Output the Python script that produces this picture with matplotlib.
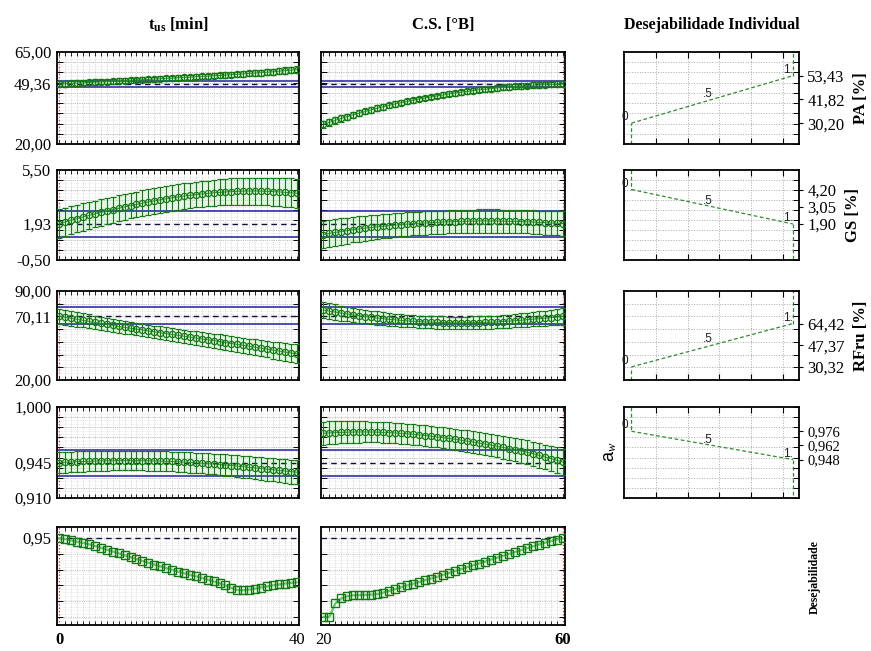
import numpy as np
import matplotlib.pyplot as plt

plt.rcParams['font.family'] = ['Liberation Serif', 'DejaVu Serif']
plt.rcParams['mathtext.fontset'] = 'custom'
plt.rcParams['mathtext.rm'] = 'Liberation Serif'
plt.rcParams['mathtext.it'] = 'Liberation Serif:italic'
plt.rcParams['mathtext.bf'] = 'Liberation Serif:bold'

# --- data ---

t_us = np.arange(0, 41)      # ultrasound time [min]
cs = np.arange(20, 61)       # sugar concentration [°B]

# PA [%]
pa_t = [49.36, 49.5, 49.65, 49.8, 49.95, 50.1, 50.25, 50.4, 50.55, 50.7, 50.85,
        51.0, 51.15, 51.3, 51.45, 51.6, 51.75, 51.9, 52.05, 52.2, 52.4,
        52.55, 52.7, 52.9, 53.05, 53.2, 53.4, 53.55, 53.75, 53.9, 54.1,
        54.3, 54.5, 54.7, 54.9, 55.1, 55.35, 55.6, 55.85, 56.1, 56.4]
pa_t_err = [1.4, 1.4, 1.35, 1.35, 1.3, 1.3, 1.3, 1.25, 1.25, 1.25, 1.2,
            1.2, 1.2, 1.2, 1.2, 1.2, 1.2, 1.2, 1.2, 1.2, 1.2,
            1.2, 1.2, 1.25, 1.25, 1.25, 1.3, 1.3, 1.3, 1.35, 1.35,
            1.4, 1.4, 1.45, 1.45, 1.5, 1.5, 1.55, 1.6, 1.6, 1.65]
pa_cs = [29.6, 30.6, 31.6, 32.5, 33.4, 34.3, 35.1, 35.9, 36.7, 37.5, 38.2,
         38.9, 39.6, 40.2, 40.8, 41.4, 42.0, 42.5, 43.0, 43.5, 44.0,
         44.5, 44.9, 45.3, 45.7, 46.1, 46.5, 46.8, 47.1, 47.4, 47.7,
         47.9, 48.2, 48.4, 48.6, 48.8, 48.9, 49.05, 49.15, 49.25, 49.36]
pa_cs_err = [1.7, 1.65, 1.6, 1.55, 1.5, 1.5, 1.45, 1.4, 1.4, 1.35, 1.35,
             1.3, 1.3, 1.25, 1.25, 1.25, 1.2, 1.2, 1.2, 1.2, 1.2,
             1.2, 1.2, 1.2, 1.2, 1.2, 1.2, 1.2, 1.25, 1.25, 1.25,
             1.25, 1.3, 1.3, 1.3, 1.3, 1.35, 1.35, 1.35, 1.4, 1.4]

# GS [%]
gs_t = [1.93, 2.04, 2.15, 2.26, 2.37, 2.47, 2.57, 2.67, 2.77, 2.86, 2.95,
        3.04, 3.13, 3.21, 3.29, 3.37, 3.44, 3.51, 3.58, 3.64, 3.70,
        3.76, 3.81, 3.86, 3.90, 3.94, 3.98, 4.01, 4.04, 4.06, 4.08,
        4.09, 4.10, 4.10, 4.09, 4.08, 4.06, 4.04, 4.01, 3.98, 3.95]
gs_t_err = [0.95, 0.94, 0.93, 0.92, 0.91, 0.9, 0.89, 0.88, 0.87, 0.87, 0.86,
            0.86, 0.85, 0.85, 0.85, 0.85, 0.85, 0.85, 0.85, 0.85, 0.85,
            0.85, 0.85, 0.85, 0.86, 0.86, 0.86, 0.87, 0.87, 0.88, 0.88,
            0.89, 0.9, 0.9, 0.91, 0.92, 0.93, 0.94, 0.95, 0.96, 0.97]
gs_cs = [1.20, 1.27, 1.34, 1.40, 1.46, 1.52, 1.57, 1.62, 1.67, 1.71, 1.75,
         1.79, 1.83, 1.86, 1.89, 1.92, 1.95, 1.97, 1.99, 2.01, 2.03,
         2.05, 2.06, 2.07, 2.08, 2.09, 2.10, 2.10, 2.10, 2.10, 2.09,
         2.08, 2.07, 2.06, 2.05, 2.03, 2.01, 1.99, 1.97, 1.95, 1.93]
gs_cs_err = [0.9, 0.89, 0.88, 0.87, 0.86, 0.85, 0.84, 0.83, 0.82, 0.81, 0.8,
             0.8, 0.79, 0.79, 0.78, 0.78, 0.78, 0.77, 0.77, 0.77, 0.77,
             0.77, 0.77, 0.77, 0.77, 0.77, 0.77, 0.77, 0.77, 0.77, 0.77,
             0.77, 0.78, 0.78, 0.78, 0.78, 0.79, 0.79, 0.8, 0.8, 0.81]

# RFru [%]
rf_t = [70.1, 69.3, 68.5, 67.7, 66.9, 66.1, 65.3, 64.5, 63.7, 62.9, 62.1,
        61.4, 60.7, 60.0, 59.3, 58.6, 57.9, 57.2, 56.5, 55.8, 55.1,
        54.4, 53.7, 53.0, 52.3, 51.6, 50.9, 50.2, 49.4, 48.7, 48.0,
        47.3, 46.5, 45.8, 45.0, 44.3, 43.5, 42.8, 42.0, 41.3, 40.5]
rf_t_err = [6.0, 5.9, 5.8, 5.7, 5.6, 5.5, 5.4, 5.3, 5.2, 5.1, 5.0,
            5.0, 4.9, 4.9, 4.9, 4.9, 4.9, 4.9, 4.9, 5.0, 5.0,
            5.1, 5.1, 5.2, 5.3, 5.4, 5.5, 5.6, 5.7, 5.8, 5.9,
            6.0, 6.1, 6.3, 6.4, 6.6, 6.7, 6.9, 7.1, 7.3, 7.5]
rf_cs = [75.0, 74.2, 73.4, 72.6, 71.9, 71.2, 70.5, 69.9, 69.3, 68.7, 68.2,
         67.7, 67.3, 66.9, 66.5, 66.2, 65.9, 65.7, 65.5, 65.3, 65.2,
         65.1, 65.0, 65.0, 65.0, 65.1, 65.2, 65.3, 65.5, 65.7, 66.0,
         66.3, 66.6, 67.0, 67.4, 67.8, 68.2, 68.6, 69.1, 69.6, 70.1]
rf_cs_err = [6.5, 6.3, 6.1, 5.9, 5.8, 5.6, 5.5, 5.4, 5.3, 5.2, 5.1,
             5.0, 5.0, 4.9, 4.9, 4.9, 4.8, 4.8, 4.8, 4.8, 4.8,
             4.8, 4.8, 4.8, 4.8, 4.9, 4.9, 4.9, 5.0, 5.0, 5.1,
             5.2, 5.3, 5.4, 5.5, 5.6, 5.8, 6.0, 6.2, 6.4, 6.6]

# a_w
aw_t = [0.9450, 0.9453, 0.9456, 0.9459, 0.9461, 0.9463, 0.9465, 0.9467, 0.9468, 0.9469, 0.9470,
        0.9470, 0.9470, 0.9470, 0.9469, 0.9468, 0.9467, 0.9465, 0.9463, 0.9461, 0.9458,
        0.9455, 0.9452, 0.9448, 0.9444, 0.9440, 0.9436, 0.9431, 0.9426, 0.9421, 0.9415,
        0.9409, 0.9403, 0.9397, 0.9391, 0.9385, 0.9379, 0.9373, 0.9367, 0.9361, 0.9355]
aw_t_err = [0.0105, 0.0104, 0.0103, 0.0102, 0.0101, 0.01, 0.0099, 0.0098, 0.0098, 0.0097, 0.0097,
            0.0097, 0.0097, 0.0097, 0.0097, 0.0097, 0.0097, 0.0097, 0.0098, 0.0098, 0.0099,
            0.0099, 0.01, 0.01, 0.0101, 0.0102, 0.0103, 0.0104, 0.0105, 0.0106, 0.0107,
            0.0108, 0.0109, 0.011, 0.0111, 0.0113, 0.0114, 0.0116, 0.0117, 0.0119, 0.012]
aw_cs = [0.9740, 0.9744, 0.9747, 0.9749, 0.9751, 0.9752, 0.9753, 0.9753, 0.9752, 0.9751, 0.9749,
         0.9746, 0.9743, 0.9739, 0.9735, 0.9730, 0.9724, 0.9718, 0.9711, 0.9704, 0.9697,
         0.9689, 0.9681, 0.9672, 0.9663, 0.9654, 0.9644, 0.9634, 0.9623, 0.9612, 0.9601,
         0.9589, 0.9577, 0.9565, 0.9552, 0.9539, 0.9522, 0.9506, 0.9490, 0.9473, 0.9456]
aw_cs_err = [0.0115, 0.0113, 0.0111, 0.0109, 0.0107, 0.0106, 0.0105, 0.0104, 0.0103, 0.0102, 0.0102,
             0.0101, 0.0101, 0.0101, 0.0101, 0.0101, 0.0101, 0.0101, 0.0102, 0.0102, 0.0103,
             0.0103, 0.0104, 0.0105, 0.0106, 0.0107, 0.0108, 0.0109, 0.011, 0.0111, 0.0112,
             0.0114, 0.0115, 0.0116, 0.0118, 0.0119, 0.0121, 0.0123, 0.0125, 0.0127, 0.0129]

# overall desirability
des_t = [0.950, 0.943, 0.935, 0.927, 0.919, 0.911, 0.900, 0.889, 0.877, 0.865, 0.853,
         0.841, 0.829, 0.817, 0.805, 0.794, 0.782, 0.771, 0.760, 0.749, 0.738,
         0.728, 0.718, 0.708, 0.698, 0.687, 0.676, 0.664, 0.650, 0.635, 0.622,
         0.620, 0.624, 0.630, 0.637, 0.644, 0.651, 0.657, 0.662, 0.666, 0.670]
des_cs = [0.452, 0.452, 0.537, 0.568, 0.582, 0.588, 0.590, 0.591, 0.592, 0.595, 0.605,
          0.616, 0.627, 0.638, 0.650, 0.661, 0.672, 0.683, 0.694, 0.705, 0.717,
          0.729, 0.741, 0.753, 0.765, 0.777, 0.789, 0.801, 0.813, 0.825, 0.837,
          0.849, 0.861, 0.873, 0.885, 0.897, 0.909, 0.920, 0.930, 0.940, 0.950]

# current setting and predicted values
current_t = 0
current_cs = 60
current_pred = [49.36, 1.93, 70.11, 0.945, 0.95]
ci_low = [48.0, 1.05, 63.8, 0.932]
ci_high = [50.9, 2.75, 77.5, 0.957]

row_ylims = [(20, 65), (-0.5, 5.5), (20, 90), (0.91, 1.0), (0.40, 1.02)]
row_tick_vals = [[20, 49.36, 65], [-0.5, 1.93, 5.5], [20, 70.11, 90],
                 [0.91, 0.945, 1.0], [0.95]]
row_tick_lbls = [['20,00', '49,36', '65,00'], ['-0,50', '1,93', '5,50'],
                 ['20,00', '70,11', '90,00'], ['0,910', '0,945', '1,000'], ['0,95']]

# individual desirability functions: response values at d = 0, .5, 1
des_levels = [0, 0.5, 1]
des_point_lbls = ['0', '.5', '1.']
resp_names = ['PA [%]', 'GS [%]', 'RFru [%]']
resp_vals = [[30.20, 41.82, 53.43], [4.20, 3.05, 1.90],
             [30.32, 47.37, 64.42], [0.976, 0.962, 0.948]]
resp_lbls = [['30,20', '41,82', '53,43'], ['4,20', '3,05', '1,90'],
             ['30,32', '47,37', '64,42'], ['0,976', '0,962', '0,948']]

# --- layout ---
W, H = 871, 651
col_px = [(57, 299), (321, 565), (624, 799)]
row_px = [(52, 144), (170, 260), (291, 380), (407, 498), (527, 625)]
n_minor = [9, 9, 7, 9]

GREEN = '#137a13'
BLUE = '#1f1fa0'


def ax_at(col, row):
    x0, x1 = col_px[col]
    y0, y1 = row_px[row]
    return fig.add_axes([x0 / W, 1 - y1 / H, (x1 - x0) / W, (y1 - y0) / H])


def minor_levels(row):
    lo, hi = row_ylims[row]
    if row == 4:
        return [0.45, 0.55, 0.65, 0.75, 0.85, 0.95]
    return list(np.linspace(lo, hi, n_minor[row] + 1))


def frame(ax):
    for s in ax.spines.values():
        s.set_linewidth(1.3)
        s.set_color('black')


def draw_profile(ax, x, y, err, row, cur_x, first_col):
    lo, hi = row_ylims[row]
    ax.set_xlim(x[0] - 0.4, x[-1] + 0.4)
    ax.set_ylim(lo, hi)
    y = np.asarray(y)

    # fine dotted mesh
    ax.set_xticks(x, minor=True)
    ax.grid(which='minor', axis='x', color='#c9c9c9', ls=':', lw=0.6, zorder=0)
    for yy in np.linspace(lo, hi, 28)[1:-1]:
        ax.axhline(yy, color='#dcdcdc', ls=':', lw=0.5, zorder=0)
    levels = minor_levels(row)
    for yy in levels:
        ax.axhline(yy, color='#a8a8a8', ls=':', lw=0.6, zorder=0)
    ax.set_yticks(levels, minor=True)

    ax.axvline(cur_x, color='#e03030', ls=':', lw=0.9, zorder=1)
    if row < 4:
        ax.axhline(ci_low[row], color=BLUE, lw=1.1, zorder=2)
        ax.axhline(ci_high[row], color=BLUE, lw=1.1, zorder=2)
    ax.axhline(current_pred[row], color='#101040', ls=(0, (4, 3)), lw=1.0, zorder=2)

    if row < 4:
        err = np.asarray(err)
        ax.fill_between(x, y - err, y + err, color='#c6eac6', alpha=0.4, lw=0, zorder=1)
        ax.plot(x, y, color='#3a9a3a', lw=0.8, zorder=3)
        ax.errorbar(x, y, yerr=err, fmt='o', ms=4.5, mfc='none', mec=GREEN, mew=0.9,
                    ecolor=GREEN, elinewidth=0.8, capsize=2.2, capthick=0.8, zorder=4)
    else:
        ax.plot(x, y, color='#6cc46c', lw=1.6, zorder=3)
        ax.plot(x, y, 's', ms=5.5, mfc='none', mec=GREEN, mew=1.0, zorder=4)

    ax.tick_params(which='minor', axis='x', direction='in', top=True, bottom=True,
                   length=3, width=0.6)
    ax.tick_params(which='minor', axis='y', direction='in', left=True, right=True,
                   length=4, width=0.7)
    if first_col:
        ax.set_yticks(row_tick_vals[row], row_tick_lbls[row])
    else:
        ax.set_yticks(row_tick_vals[row], [''] * len(row_tick_vals[row]))
    ax.tick_params(which='major', axis='y', length=0, labelsize=12, pad=4)
    frame(ax)


fig = plt.figure(figsize=(W / 100, H / 100), dpi=100)

profiles = [
    [(pa_t, pa_t_err), (pa_cs, pa_cs_err)],
    [(gs_t, gs_t_err), (gs_cs, gs_cs_err)],
    [(rf_t, rf_t_err), (rf_cs, rf_cs_err)],
    [(aw_t, aw_t_err), (aw_cs, aw_cs_err)],
    [(des_t, None), (des_cs, None)],
]

for row in range(5):
    for col, (x, cur) in enumerate([(t_us, current_t), (cs, current_cs)]):
        ax = ax_at(col, row)
        y, err = profiles[row][col]
        draw_profile(ax, x, y, err, row, cur, col == 0)
        if row == 4:
            ax.set_xticks([x[0], x[-1]], [str(x[0]), str(x[-1])])
            ax.tick_params(which='major', axis='x', length=0, labelsize=12, pad=5)
            for lbl in ax.get_xticklabels():
                if int(lbl.get_text()) == cur:
                    lbl.set_fontweight('bold')
        else:
            ax.set_xticks([])

# individual desirability column
for row in range(4):
    ax = ax_at(2, row)
    lo, hi = row_ylims[row]
    ax.set_xlim(-0.046, 1.037)
    ax.set_ylim(lo, hi)
    vals = resp_vals[row]
    ax.plot(des_levels, vals, color='#2e8b2e', ls=(0, (3, 2)), lw=0.9, zorder=3)
    up = vals[2] > vals[0]
    ax.plot([0, 0], [lo if up else hi, vals[0]], color='#2e8b2e', ls=(0, (3, 2)), lw=0.9)
    ax.plot([1, 1], [vals[2], hi if up else lo], color='#2e8b2e', ls=(0, (3, 2)), lw=0.9)
    for d, v, t in zip(des_levels, vals, des_point_lbls):
        ax.annotate(t, (d, v), xytext=(-7, 2), textcoords='offset points',
                    fontsize=8.5, family=['Liberation Sans', 'DejaVu Sans'], color='#202020')

    gx = [0.155, 0.35, 0.545, 0.74, 0.935]
    ax.set_xticks(gx)
    ax.set_xticklabels([])
    ax.grid(axis='x', color='#a8a8a8', ls=':', lw=0.7)
    levels = minor_levels(row)
    for yy in levels[1:-1]:
        ax.axhline(yy, color='#a8a8a8', ls=':', lw=0.7, zorder=0)
    ax.set_yticks(levels, minor=True)
    ax.tick_params(which='minor', axis='y', direction='in', left=True, right=False,
                   length=4, width=0.7)
    ax.tick_params(which='major', axis='x', direction='in', top=True, bottom=True,
                   length=4, width=0.8)
    ax.yaxis.tick_right()
    ax.set_yticks(vals, resp_lbls[row])
    ax.tick_params(which='major', axis='y', length=3, labelsize=12 if row < 3 else 10.5,
                   pad=3)
    ax.yaxis.set_label_position('right')
    if row < 3:
        ax.set_ylabel(resp_names[row], fontsize=12, fontweight='bold', labelpad=6)
    frame(ax)

# column titles and extra labels
fig.text((57 + 299) / 2 / W, 1 - 25 / H, r'$\mathbf{t}_{\mathbf{us}}$ [min]',
         ha='center', va='center', fontsize=12, fontweight='bold')
fig.text((321 + 565) / 2 / W, 1 - 25 / H, 'C.S. [°B]',
         ha='center', va='center', fontsize=12, fontweight='bold')
fig.text((624 + 799) / 2 / W, 1 - 25 / H, 'Desejabilidade Individual',
         ha='center', va='center', fontsize=11.5, fontweight='bold')
fig.text(610 / W, 1 - 452 / H, r'a$_w$', rotation=90, ha='center', va='center',
         fontsize=13, family=['Liberation Sans', 'DejaVu Sans'])
fig.text(815 / W, 1 - 577 / H, 'Desejabilidade', rotation=90, ha='center', va='center',
         fontsize=8.5, fontweight='bold')

fig.savefig('out.png', dpi=100)
